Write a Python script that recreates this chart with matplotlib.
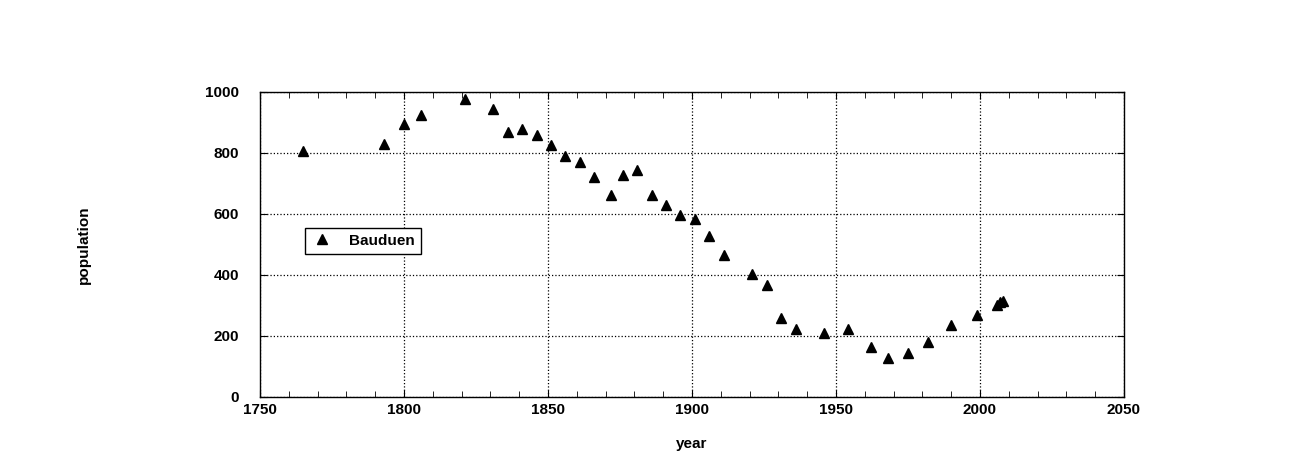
import matplotlib.pyplot as plt
from matplotlib.ticker import MultipleLocator

years = [1765, 1793, 1800, 1806, 1821, 1831, 1836, 1841, 1846, 1851, 1856, 1861, 1866,
         1872, 1876, 1881, 1886, 1891, 1896, 1901, 1906, 1911, 1921, 1926, 1931, 1936,
         1946, 1954, 1962, 1968, 1975, 1982, 1990, 1999, 2006, 2007, 2008]
population = [805, 830, 895, 925, 978, 945, 870, 880, 858, 826, 790, 770, 721,
              662, 728, 744, 662, 630, 597, 584, 528, 466, 403, 367, 259, 223,
              210, 223, 164, 128, 144, 180, 236, 269, 302, 311, 315]

plt.rcParams['font.family'] = ['Liberation Sans', 'DejaVu Sans']
plt.rcParams['font.weight'] = 'bold'

fig = plt.figure(figsize=(12.97, 4.59), dpi=100)
ax = fig.add_axes([0.2005, 0.1351, 0.6661, 0.6645])

ax.plot(years, population, linestyle='none', marker='^', color='black',
        markersize=6.5, label='Bauduen')

ax.set_xlim(1750, 2050)
ax.set_ylim(0, 1000)
ax.xaxis.set_major_locator(MultipleLocator(50))
ax.xaxis.set_minor_locator(MultipleLocator(10))
ax.yaxis.set_major_locator(MultipleLocator(200))
ax.tick_params(which='both', direction='in', top=True, right=True, labelsize=11, colors='black')
ax.tick_params(which='major', length=5)
ax.tick_params(which='minor', length=4)
ax.tick_params(axis='y', pad=15)
ax.tick_params(axis='x', pad=4)
ax.grid(True, which='major', linestyle=':', color='black', linewidth=0.9)

for s in ax.spines.values():
    s.set_linewidth(1.0)

ax.set_xlabel('year', fontsize=11, fontweight='bold', labelpad=15)
ax.set_ylabel('population', fontsize=11, fontweight='bold', labelpad=82)

leg = ax.legend(loc='upper left', bbox_to_anchor=(0.0515, 0.555), fancybox=False,
                edgecolor='black', framealpha=1, fontsize=11, handletextpad=1.0,
                borderpad=0.4, handlelength=1.5, borderaxespad=0)
leg.get_frame().set_linewidth(1.0)

fig.savefig('out.png', dpi=100)
